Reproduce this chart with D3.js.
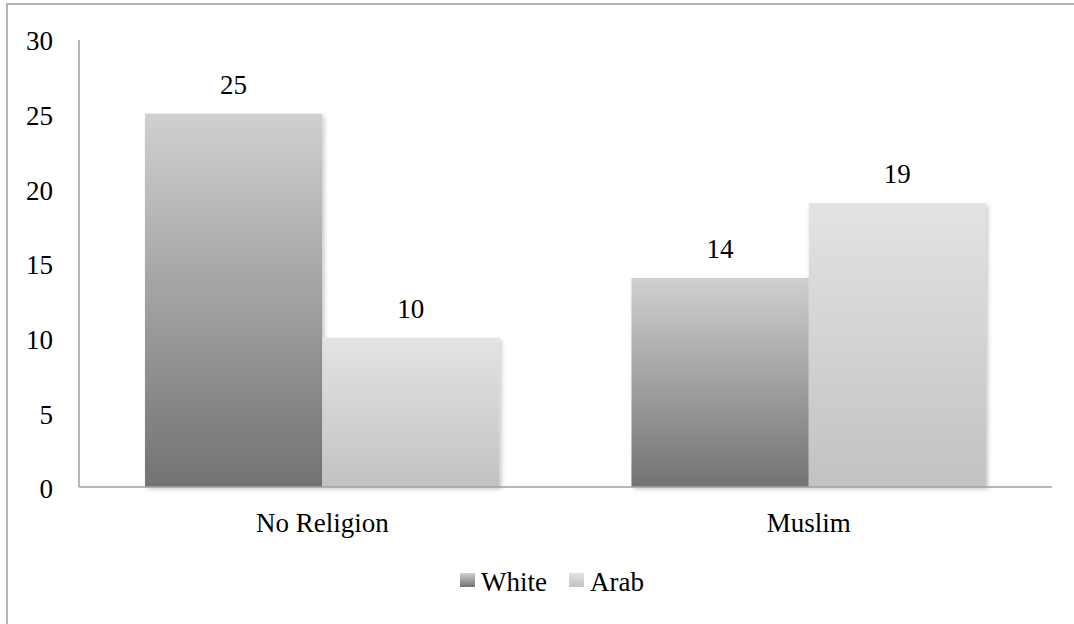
<!DOCTYPE html>
<html>
<head>
<meta charset="utf-8">
<script src="https://cdn.jsdelivr.net/npm/d3@7/dist/d3.min.js"></script>
<style>
  html, body { margin: 0; padding: 0; background: #fff; }
  svg { display: block; }
  text { font-family: "Liberation Serif", "DejaVu Serif", serif; fill: #000; }
</style>
</head>
<body>
<svg id="chart" width="1074" height="624"></svg>
<script>
// Respondent counts by religion and ethnicity
const categories = ["No Religion", "Muslim"];
const seriesNames = ["White", "Arab"];
const whiteValues = [25, 14];
const arabValues = [10, 19];
const yTicks = [0, 5, 10, 15, 20, 25, 30];

const series = [
  { name: seriesNames[0], values: whiteValues, grad: "gradWhite" },
  { name: seriesNames[1], values: arabValues, grad: "gradArab" }
];

const svg = d3.select("#chart");
const W = 1074, H = 624;
const plotLeft = 79, plotRight = 1052, plotTop = 39, plotBottom = 487;
const fontSize = 27;

const defs = svg.append("defs");
function vGrad(id, topColor, bottomColor) {
  const g = defs.append("linearGradient").attr("id", id)
    .attr("x1", 0).attr("y1", 0).attr("x2", 0).attr("y2", 1);
  g.append("stop").attr("offset", "0%").attr("stop-color", topColor);
  g.append("stop").attr("offset", "100%").attr("stop-color", bottomColor);
}
vGrad("gradWhite", "#d0d0d0", "#727272");
vGrad("gradArab", "#e3e3e3", "#c2c2c2");

const shadow = defs.append("filter").attr("id", "shadow")
  .attr("x", "-5%").attr("y", "-5%").attr("width", "115%").attr("height", "115%");
shadow.append("feDropShadow").attr("dx", 2).attr("dy", 2).attr("stdDeviation", 2)
  .attr("flood-color", "#000").attr("flood-opacity", 0.22);

// outer frame
svg.append("rect").attr("x", 7).attr("y", 4).attr("width", W + 20).attr("height", H + 20)
  .attr("fill", "none").attr("stroke", "#a0a0a0").attr("stroke-width", 1.5);

const x0 = d3.scaleBand().domain(categories).range([plotLeft, plotRight])
  .paddingInner(0.2713).paddingOuter(0.1357);
const x1 = d3.scaleBand().domain(seriesNames).range([0, x0.bandwidth()]);
const y = d3.scaleLinear().domain([0, 30]).range([plotBottom, plotTop]);

// bars
const groups = svg.append("g").selectAll("g")
  .data(categories).join("g")
  .attr("transform", d => `translate(${x0(d)},0)`);

groups.selectAll("rect")
  .data((c, i) => series.map(s => ({ s: s.name, v: s.values[i], grad: s.grad })))
  .join("rect")
  .attr("x", d => x1(d.s))
  .attr("y", d => y(d.v))
  .attr("width", x1.bandwidth())
  .attr("height", d => y(0) - y(d.v))
  .attr("fill", d => `url(#${d.grad})`)
  .attr("filter", "url(#shadow)");

groups.selectAll("text.val")
  .data((c, i) => series.map(s => ({ s: s.name, v: s.values[i] })))
  .join("text").attr("class", "val")
  .attr("x", d => x1(d.s) + x1.bandwidth() / 2)
  .attr("y", d => y(d.v) - 20)
  .attr("text-anchor", "middle")
  .attr("font-size", fontSize)
  .text(d => d.v);

// y axis
const yAxis = svg.append("g").attr("transform", `translate(${plotLeft},0)`)
  .call(d3.axisLeft(y).tickValues(yTicks).tickSize(0).tickPadding(26));
yAxis.select(".domain").attr("stroke", "#a0a0a0").attr("stroke-width", 1.5)
  .attr("d", `M0,${plotTop + 1}V${plotBottom}`);
yAxis.selectAll(".tick text").attr("font-size", fontSize)
  .attr("font-family", "Liberation Serif, DejaVu Serif, serif")
  .attr("dy", "0.4em").attr("fill", "#000");

// x axis
const xAxis = svg.append("g").attr("transform", `translate(0,${plotBottom})`)
  .call(d3.axisBottom(x0).tickSize(0).tickPadding(26));
xAxis.select(".domain").attr("stroke", "#a0a0a0").attr("stroke-width", 1.5)
  .attr("d", `M${plotLeft},0H${plotRight}`);
xAxis.selectAll(".tick text").attr("font-size", fontSize)
  .attr("font-family", "Liberation Serif, DejaVu Serif, serif")
  .attr("fill", "#000");

// legend
const legendItems = [
  { name: seriesNames[0], grad: "gradWhite", x: 460 },
  { name: seriesNames[1], grad: "gradArab", x: 569 }
];
const legend = svg.append("g");
legend.selectAll("rect").data(legendItems).join("rect")
  .attr("x", d => d.x).attr("y", 573).attr("width", 15).attr("height", 14)
  .attr("fill", d => `url(#${d.grad})`);
legend.selectAll("text").data(legendItems).join("text")
  .attr("x", d => d.x + 21).attr("y", 591)
  .attr("font-size", fontSize)
  .text(d => d.name);
</script>
</body>
</html>
